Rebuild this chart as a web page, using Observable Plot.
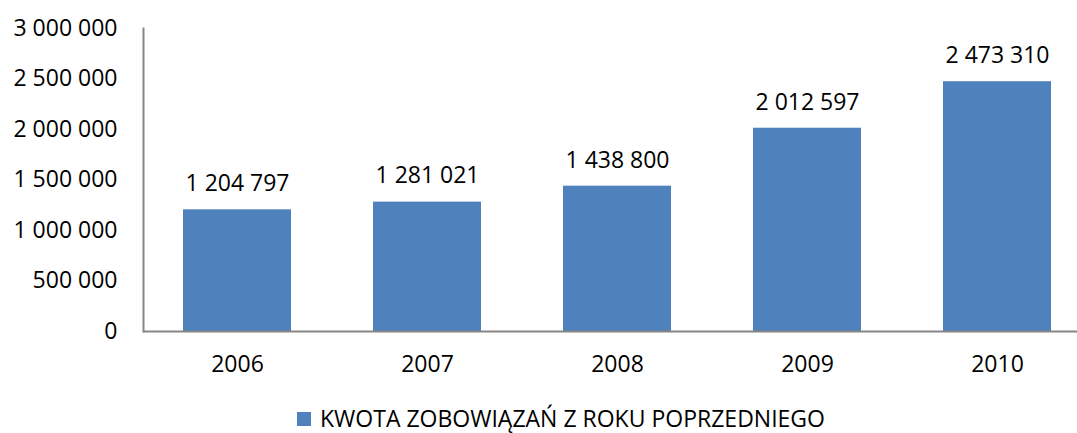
<!DOCTYPE html>
<html>
<head>
<meta charset="utf-8">
<script src="https://cdn.jsdelivr.net/npm/d3@7"></script>
<script src="https://cdn.jsdelivr.net/npm/@observablehq/plot@0.6"></script>
<style>
  html, body { margin: 0; padding: 0; background: #fff; }
  body { width: 1077px; height: 433px; overflow: hidden; font-family: "Open Sans", sans-serif; }
  #chart { position: relative; }
  #legend { position: absolute; left: 297px; top: 407px; height: 23px; line-height: 23px; display: flex; align-items: center; font-size: 23px; color: #000; white-space: nowrap; }
  #legend .sw { width: 14px; height: 14px; background: #4F81BD; margin-right: 9px; }
</style>
</head>
<body>
<div id="chart"></div>
<div id="legend"><span class="sw"></span><span id="legendText"></span></div>
<script>
const years = ["2006", "2007", "2008", "2009", "2010"];
const values = [1204797, 1281021, 1438800, 2012597, 2473310];
const yTicks = [0, 500000, 1000000, 1500000, 2000000, 2500000, 3000000];
const seriesName = "KWOTA ZOBOWIĄZAŃ Z ROKU POPRZEDNIEGO";
const barColor = "#4F81BD";

const data = years.map((y, i) => ({year: y, value: values[i]}));
const fmt = v => d3.format(",")(v).replace(/,/g, " ");

const H = 390;
const chart = Plot.plot({
  width: 1077,
  height: H,
  marginLeft: 143,
  marginRight: 0,
  marginTop: 28,
  marginBottom: H - 331,
  style: {fontFamily: "Open Sans, sans-serif", fontSize: "23px", color: "#000", background: "#fff"},
  x: {domain: years, range: [142.5, 1092.5], paddingInner: 0.43, paddingOuter: 0.215, label: null},
  y: {domain: [0, 3000000], ticks: yTicks, label: null},
  marks: [
    Plot.barY(data, {x: "year", y: "value", fill: barColor}),
    Plot.text(data, {x: "year", y: "value", text: d => fmt(d.value), dy: -26, fontSize: 23, fill: "#000"}),
    Plot.axisY({ticks: yTicks, tickFormat: fmt, tickSize: 0, tickPadding: 26, fontSize: 23, label: null}),
    Plot.axisX({tickSize: 0, tickPadding: 24, fontSize: 23, label: null}),
    Plot.frame({anchor: "left", stroke: "#868686", strokeWidth: 2}),
    Plot.ruleY([0], {stroke: "#868686", strokeWidth: 2})
  ]
});
document.getElementById("chart").appendChild(chart);
document.getElementById("legendText").textContent = seriesName;
</script>
</body>
</html>
